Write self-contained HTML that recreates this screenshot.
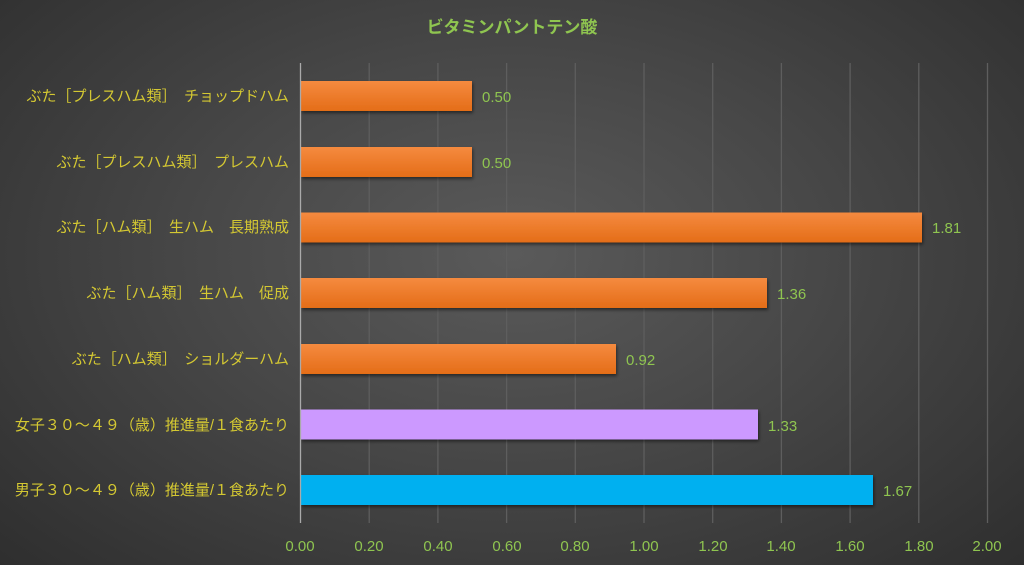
<!DOCTYPE html>
<html><head><meta charset="utf-8"><style>
body{margin:0;width:1024px;height:565px;overflow:hidden;background:radial-gradient(ellipse 70% 80% at 50% 45%,#5a5a5a 0%,#474747 45%,#2e2e2e 100%);font-family:"Liberation Sans","Noto Sans CJK JP",sans-serif;}
</style></head><body>
<svg width="1024" height="565" xmlns="http://www.w3.org/2000/svg" style="position:absolute;left:0;top:0">
<defs>
<linearGradient id="o" x1="0" y1="0" x2="0" y2="1"><stop offset="0" stop-color="#f58a3f"/><stop offset="1" stop-color="#e46d18"/></linearGradient>
<filter id="s" x="-5%" y="-20%" width="110%" height="150%"><feDropShadow dx="1" dy="2" stdDeviation="1.5" flood-color="#000" flood-opacity="0.5"/></filter>
</defs>
<text x="512" y="33" text-anchor="middle" font-size="17" font-weight="bold" fill="#8fc550">ビタミンパントテン酸</text>
<g stroke="#5e5e5e" stroke-width="1.3">
<line x1="369.2" y1="63" x2="369.2" y2="523"/><line x1="437.9" y1="63" x2="437.9" y2="523"/><line x1="506.6" y1="63" x2="506.6" y2="523"/><line x1="575.3" y1="63" x2="575.3" y2="523"/><line x1="644" y1="63" x2="644" y2="523"/><line x1="712.7" y1="63" x2="712.7" y2="523"/><line x1="781.4" y1="63" x2="781.4" y2="523"/><line x1="850.1" y1="63" x2="850.1" y2="523"/><line x1="918.8" y1="63" x2="918.8" y2="523"/><line x1="987.5" y1="63" x2="987.5" y2="523"/>
</g>
<g filter="url(#s)">
<rect x="301" y="81" width="171" height="30" fill="url(#o)"/>
<rect x="301" y="147" width="171" height="30" fill="url(#o)"/>
<rect x="301" y="212.5" width="621" height="30" fill="url(#o)"/>
<rect x="301" y="278" width="466" height="30" fill="url(#o)"/>
<rect x="301" y="344" width="315" height="30" fill="url(#o)"/>
<rect x="301" y="409.5" width="457" height="30" fill="#cc99ff"/>
<rect x="301" y="475" width="572" height="30" fill="#00b0f0"/>
</g>
<line x1="300.5" y1="63" x2="300.5" y2="523" stroke="#aaa" stroke-width="1.3"/>
<g font-size="15" fill="#8fc550">
<text x="482" y="102">0.50</text><text x="482" y="168">0.50</text><text x="932" y="233">1.81</text><text x="777" y="299">1.36</text><text x="626" y="365">0.92</text><text x="768" y="431">1.33</text><text x="883" y="496">1.67</text>
</g>
<g font-size="15" fill="#8fc550" text-anchor="middle">
<text x="300" y="551">0.00</text><text x="369" y="551">0.20</text><text x="438" y="551">0.40</text><text x="507" y="551">0.60</text><text x="575" y="551">0.80</text><text x="644" y="551">1.00</text><text x="713" y="551">1.20</text><text x="781" y="551">1.40</text><text x="850" y="551">1.60</text><text x="919" y="551">1.80</text><text x="987" y="551">2.00</text>
</g>
<g font-size="15" fill="#d4c832" text-anchor="end">
<text x="289" y="101">ぶた［プレスハム類］　チョップドハム</text>
<text x="289" y="167">ぶた［プレスハム類］　プレスハム</text>
<text x="289" y="232">ぶた［ハム類］　生ハム　長期熟成</text>
<text x="289" y="298">ぶた［ハム類］　生ハム　促成</text>
<text x="289" y="364">ぶた［ハム類］　ショルダーハム</text>
<text x="289" y="430">女子３０～４９（歳）推進量/１食あたり</text>
<text x="289" y="495">男子３０～４９（歳）推進量/１食あたり</text>
</g>
</svg>
</body></html>
